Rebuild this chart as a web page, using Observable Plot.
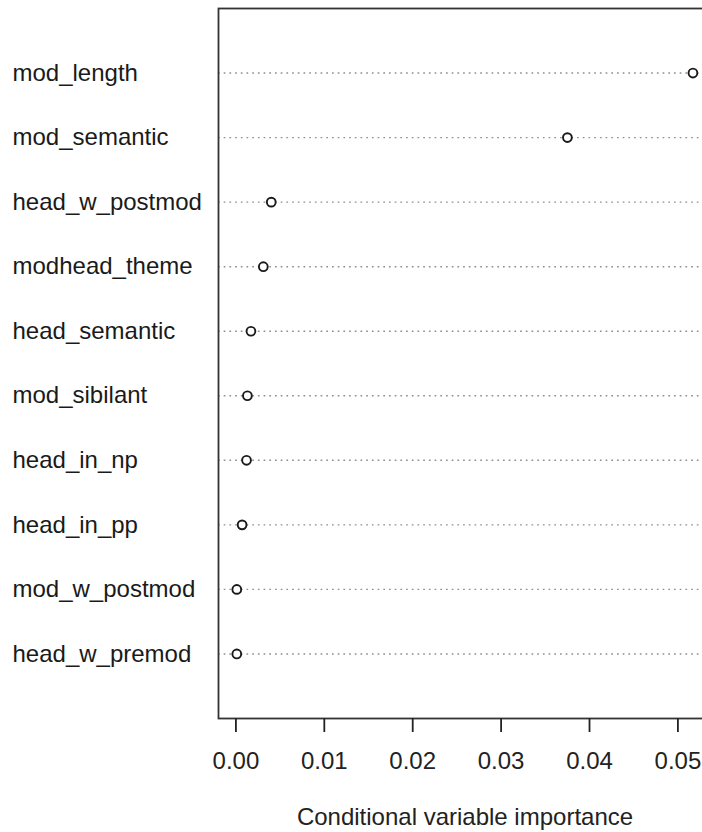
<!DOCTYPE html>
<html>
<head>
<meta charset="utf-8">
<script src="https://cdn.jsdelivr.net/npm/d3@7"></script>
<script src="https://cdn.jsdelivr.net/npm/@observablehq/plot@0.6"></script>
<style>
  html, body { margin: 0; padding: 0; background: #fff; overflow: hidden; }
  #chart svg { font-family: "Liberation Sans", Arial, sans-serif; }
</style>
</head>
<body>
<div id="chart"></div>
<script>
const variables = ["mod_length", "mod_semantic", "head_w_postmod", "modhead_theme", "head_semantic",
                   "mod_sibilant", "head_in_np", "head_in_pp", "mod_w_postmod", "head_w_premod"];
const importance = [0.0517, 0.0375, 0.0040, 0.0031, 0.0017, 0.0013, 0.0012, 0.0007, 0.0001, 0.0001];
const xTicks = [0, 0.01, 0.02, 0.03, 0.04, 0.05];
const xLabel = "Conditional variable importance";

const data = variables.map((name, i) => ({name, value: importance[i]}));

const chart = Plot.plot({
  width: 702,
  height: 832,
  marginLeft: 218,
  marginRight: -9,
  marginTop: 8,
  marginBottom: 114,
  style: {fontFamily: "'Liberation Sans', Arial, sans-serif", fontSize: "24px", color: "#222", overflow: "hidden", background: "white"},
  x: {domain: [-0.00197, 0.0538]},
  y: {domain: variables, type: "point", padding: 1, round: false},
  marks: [
    Plot.ruleY(data, {y: "name", stroke: "#8f8f8f", strokeWidth: 1.4, strokeDasharray: "1.7,4"}),
    Plot.frame({stroke: "#333", strokeWidth: 1.8}),
    Plot.axisY({ticks: [], label: null, tickSize: 0}),
    Plot.text(data, {y: "name", text: "name", frameAnchor: "left", dx: -206, textAnchor: "start", fontSize: 24, fill: "#1a1a1a"}),
    Plot.axisX({ticks: xTicks, tickFormat: d3.format(".2f"), tickSize: 14, tickPadding: 19, strokeWidth: 1.8, stroke: "#222",
      fontSize: 24, label: xLabel, labelAnchor: "center", labelArrow: "none", labelOffset: 106}),
    Plot.dot(data, {x: "value", y: "name", r: 4.4, stroke: "#1a1a1a", strokeWidth: 1.9, fill: "white"})
  ]
});
document.getElementById("chart").appendChild(chart);
</script>
</body>
</html>
